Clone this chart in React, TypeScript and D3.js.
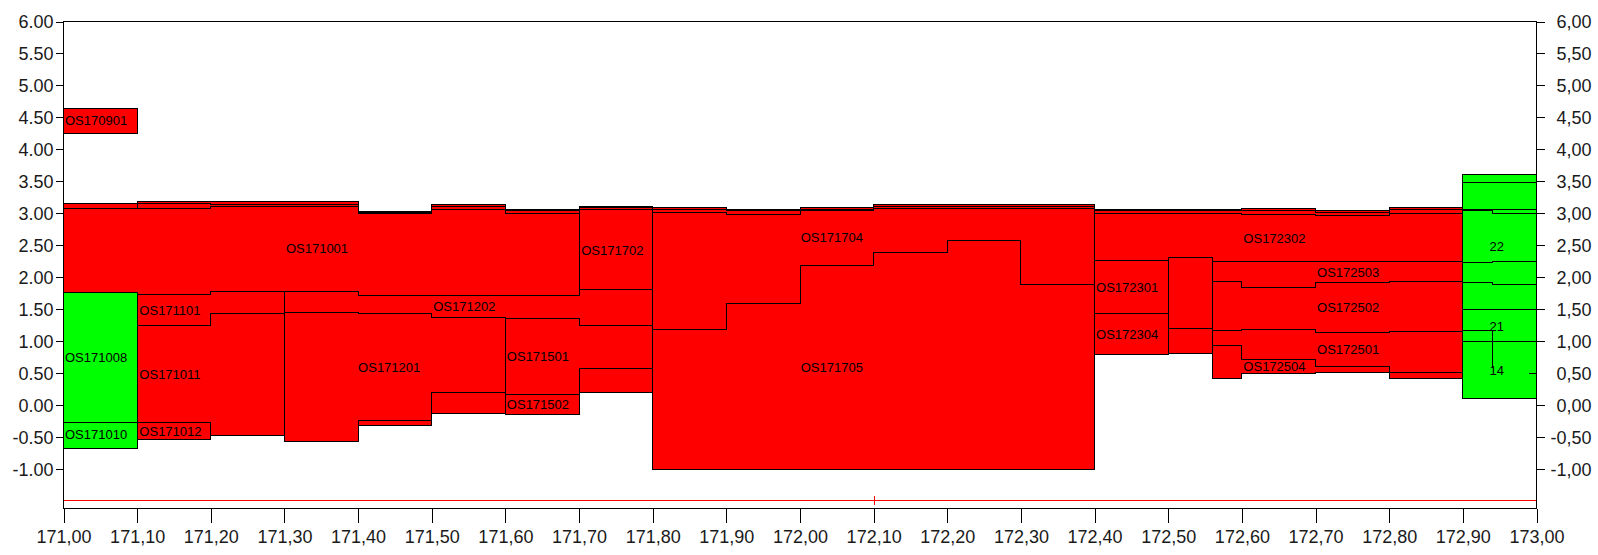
import { useEffect, useRef } from 'react'
import * as d3 from 'd3'

type Step = [number, number, number, number] // x0, x1, top, bottom

const width = 1598
const height = 555

// column edges of the thin top layers
const colEdges = [171.0, 171.1, 171.2, 171.3, 171.4, 171.5, 171.6, 171.7, 171.8, 171.9, 172.0,
  172.1, 172.2, 172.3, 172.4, 172.5, 172.56, 172.6, 172.7, 172.8, 172.9]
const bandTop = [3.16, 3.18, 3.18, 3.18, 3.035, 3.14, 3.06, 3.11, 3.10, 3.06, 3.09, 3.14, 3.14, 3.14, 3.06, 3.06, 3.06, 3.08, 3.04, 3.09]
const bandMid = [3.08, 3.15, 3.14, 3.14, 3.02, 3.11, 3.04, 3.09, 3.07, 3.04, 3.06, 3.11, 3.11, 3.11, 3.04, 3.04, 3.04, 3.04, 3.02, 3.06]
const bandBase = [3.075, 3.08, 3.11, 3.11, 3.0, 3.07, 3.005, 3.07, 3.02, 2.98, 3.04, 3.08, 3.08, 3.08, 3.0, 3.0, 3.0, 2.99, 2.97, 3.0]

// bottoms of the bodies lying right under the top layers
const os171001Bottom = [1.766, 1.73, 1.775, 1.775, 1.715, 1.715, 1.715] // cols 0-6
const os171702Bottom = [1.81] // col 7
const os171704Bottom = [1.19, 1.59, 2.19, 2.395, 2.58, 1.89] // cols 8-13
const os172302Bottom = [2.265, 2.31, 2.25, 2.25, 2.25, 2.25] // cols 14-19

const os170901: Step[] = [[171.0, 171.1, 4.64, 4.25]]
const os171008: Step[] = [[171.0, 171.1, 1.766, -0.26]]
const os171010: Step[] = [[171.0, 171.1, -0.26, -0.67]]
const os171101: Step[] = [[171.1, 171.2, 1.73, 1.25], [171.2, 171.3, 1.775, 1.43]]
const os171011: Step[] = [[171.1, 171.2, 1.25, -0.26], [171.2, 171.3, 1.43, -0.47]]
const os171012: Step[] = [[171.1, 171.2, -0.26, -0.53]]
const os171202: Step[] = [[171.3, 171.4, 1.775, 1.46], [171.4, 171.5, 1.715, 1.44], [171.5, 171.6, 1.715, 1.375], [171.6, 171.7, 1.715, 1.36], [171.7, 171.8, 1.81, 1.25]]
const os171201: Step[] = [[171.3, 171.4, 1.46, -0.57], [171.4, 171.5, 1.44, -0.235], [171.5, 171.6, 1.375, 0.21]]
const cellA: Step[] = [[171.4, 171.5, -0.235, -0.31]]
const cellB: Step[] = [[171.5, 171.6, 0.21, -0.125]]
const os171501: Step[] = [[171.6, 171.7, 1.36, 0.17], [171.7, 171.8, 1.25, 0.58]]
const os171502: Step[] = [[171.6, 171.7, 0.17, -0.14]]
const cellC: Step[] = [[171.7, 171.8, 0.58, 0.21]]
const os171705Bottom = -1.0
const os172301: Step[] = [[172.4, 172.5, 2.265, 1.44]]
const os172304: Step[] = [[172.4, 172.5, 1.44, 0.8]]
const cellD: Step[] = [[172.5, 172.56, 2.31, 1.2]]
const cellE: Step[] = [[172.5, 172.56, 1.2, 0.81]]
const os172503: Step[] = [[172.56, 172.6, 2.25, 1.94], [172.6, 172.7, 2.25, 1.84], [172.7, 172.8, 2.25, 1.92], [172.8, 172.9, 2.25, 1.94]]
const os172502: Step[] = [[172.56, 172.6, 1.94, 1.17], [172.6, 172.7, 1.84, 1.19], [172.7, 172.8, 1.92, 1.145], [172.8, 172.9, 1.94, 1.16]]
const os172501: Step[] = [[172.56, 172.6, 1.17, 0.94], [172.6, 172.7, 1.19, 0.72], [172.7, 172.8, 1.145, 0.61], [172.8, 172.9, 1.16, 0.52]]
const os172504: Step[] = [[172.56, 172.6, 0.94, 0.42], [172.6, 172.7, 0.72, 0.5], [172.7, 172.8, 0.61, 0.52], [172.8, 172.9, 0.52, 0.42]]

// green column at the end
const green1: Step[] = [[172.9, 173.0, 3.61, 3.49]]
const green2: Step[] = [[172.9, 172.94, 3.49, 3.07], [172.94, 173.0, 3.49, 3.06]]
const green3: Step[] = [[172.9, 172.94, 3.07, 3.04], [172.94, 173.0, 3.06, 3.0]]
const green22: Step[] = [[172.9, 172.94, 3.04, 2.24], [172.94, 173.0, 3.0, 2.25]]
const green5: Step[] = [[172.9, 172.94, 2.24, 1.92], [172.94, 173.0, 2.25, 1.89]]
const green6: Step[] = [[172.9, 172.94, 1.92, 1.5], [172.94, 173.0, 1.89, 1.5]]
const green21: Step[] = [[172.9, 173.0, 1.5, 1.0]]
const green14: Step[] = [[172.9, 173.0, 1.0, 0.11]]
const greenTrace: [number, number][] = [[172.9, 1.165], [172.94, 1.165], [172.94, 0.58]]

// labels: text, x, y (data units)
const labels: [string, number, number][] = [
  ['OS170901', 171.002, 4.45], ['OS171001', 171.302, 2.46], ['OS171008', 171.002, 0.75],
  ['OS171010', 171.002, -0.45], ['OS171101', 171.103, 1.48], ['OS171011', 171.103, 0.49],
  ['OS171012', 171.103, -0.4], ['OS171201', 171.4, 0.6], ['OS171202', 171.502, 1.54],
  ['OS171501', 171.602, 0.76], ['OS171502', 171.602, 0.02], ['OS171702', 171.703, 2.43],
  ['OS171704', 172.001, 2.63], ['OS171705', 172.001, 0.59], ['OS172301', 172.402, 1.84],
  ['OS172304', 172.402, 1.11], ['OS172302', 172.602, 2.61], ['OS172503', 172.702, 2.08],
  ['OS172502', 172.702, 1.53], ['OS172501', 172.702, 0.875], ['OS172504', 172.602, 0.61],
]
const greenLabels: [string, number, number][] = [['22', 172.946, 2.49], ['21', 172.946, 1.24], ['14', 172.946, 0.55]]

const xTicks = d3.range(0, 21).map(i => 171 + i * 0.1)
const yTicks = d3.range(0, 15).map(i => -1 + i * 0.5)
const baseLine = -1.47
const baseMark = 172.1

const RED = '#ff0000'
const GREEN = '#00ff00'
const FONT = '"Liberation Sans", Arial, sans-serif'

function under(from: number, bottoms: number[]): Step[] {
  return bottoms.map((b, i) => [colEdges[from + i], colEdges[from + i + 1], bandBase[from + i], b])
}

function band(top: number[], bottom: number[]): Step[] {
  return top.map((t, i) => [colEdges[i], colEdges[i + 1], t, bottom[i]])
}

export default function App() {
  const svgRef = useRef<SVGSVGElement>(null)

  useEffect(() => {
    if (!svgRef.current) return
    const svg = d3.select(svgRef.current)
    svg.selectAll('*').remove()

    const x = d3.scaleLinear().domain([171, 173]).range([63.5, 1536.5])
    const y = d3.scaleLinear().domain([-1.61, 6]).range([508.5, 21.5])

    const outline = (steps: Step[]) => {
      const pts: [number, number][] = []
      steps.forEach(([x0, x1, t]) => { pts.push([x0, t], [x1, t]) })
      steps.slice().reverse().forEach(([x0, x1, , b]) => { pts.push([x1, b], [x0, b]) })
      return d3.line<[number, number]>().x(d => x(d[0])).y(d => y(d[1]))(pts) + 'Z'
    }

    const os171705: Step[] = os171704Bottom.map((t, i) => [colEdges[8 + i], colEdges[9 + i], t, os171705Bottom])

    const bodies: [Step[], string][] = [
      [band(bandTop, bandMid), RED],
      [band(bandMid, bandBase), RED],
      [os170901, RED],
      [under(0, os171001Bottom), RED],
      [under(7, os171702Bottom), RED],
      [under(8, os171704Bottom), RED],
      [under(14, os172302Bottom), RED],
      [os171008, GREEN], [os171010, GREEN],
      [os171101, RED], [os171011, RED], [os171012, RED],
      [os171202, RED], [os171201, RED], [cellA, RED], [cellB, RED],
      [os171501, RED], [os171502, RED], [cellC, RED],
      [os171705, RED],
      [os172301, RED], [os172304, RED], [cellD, RED], [cellE, RED],
      [os172503, RED], [os172502, RED], [os172501, RED], [os172504, RED],
      [green1, GREEN], [green2, GREEN], [green3, GREEN], [green22, GREEN],
      [green5, GREEN], [green6, GREEN], [green21, GREEN], [green14, GREEN],
    ]

    const g = svg.append('g')

    g.selectAll('.body')
      .data(bodies)
      .enter().append('path')
      .attr('class', 'body')
      .attr('d', d => outline(d[0]))
      .attr('fill', d => d[1])
      .attr('stroke', '#000')
      .attr('stroke-width', 1)
      .attr('shape-rendering', 'crispEdges')

    g.append('path')
      .datum(greenTrace)
      .attr('d', d3.line<[number, number]>().x(d => x(d[0])).y(d => y(d[1])))
      .attr('fill', 'none')
      .attr('stroke', '#000')
      .attr('shape-rendering', 'crispEdges')

    // labels
    g.selectAll('.lbl')
      .data(labels)
      .enter().append('text')
      .attr('class', 'lbl')
      .attr('x', d => x(d[1]))
      .attr('y', d => y(d[2]))
      .attr('dy', '0.35em')
      .style('font-family', FONT)
      .style('font-size', '13px')
      .style('fill', '#000')
      .text(d => d[0])

    g.selectAll('.glbl')
      .data(greenLabels)
      .enter().append('text')
      .attr('class', 'glbl')
      .attr('x', d => x(d[1]))
      .attr('y', d => y(d[2]))
      .attr('dy', '0.35em')
      .attr('text-anchor', 'middle')
      .style('font-family', FONT)
      .style('font-size', '13px')
      .style('fill', '#000')
      .text(d => d[0])

    // red base line with mark
    const by = Math.round(y(baseLine)) + 0.5
    g.append('line')
      .attr('x1', x(171)).attr('x2', x(173))
      .attr('y1', by).attr('y2', by)
      .attr('stroke', RED)
      .attr('shape-rendering', 'crispEdges')
    g.append('line')
      .attr('x1', Math.round(x(baseMark)) + 0.5).attr('x2', Math.round(x(baseMark)) + 0.5)
      .attr('y1', by - 4.5).attr('y2', by + 4.5)
      .attr('stroke', RED)
      .attr('shape-rendering', 'crispEdges')

    // frame
    g.append('rect')
      .attr('x', x(171)).attr('y', y(6))
      .attr('width', x(173) - x(171)).attr('height', y(-1.61) - y(6))
      .attr('fill', 'none')
      .attr('stroke', '#000')
      .attr('shape-rendering', 'crispEdges')

    const styleAxis = (sel: any) => {
      sel.select('.domain').remove()
      sel.selectAll('.tick line').attr('stroke', '#000').attr('shape-rendering', 'crispEdges')
      sel.selectAll('text')
        .style('font-family', FONT)
        .style('font-size', '18px')
        .style('fill', '#1a1a1a')
    }

    const bottom = svg.append('g')
      .attr('transform', `translate(0,${y(-1.61)})`)
      .call(d3.axisBottom(x).tickValues(xTicks).tickSize(14).tickPadding(8)
        .tickFormat(d => (+d).toFixed(2).replace('.', ',')))
    styleAxis(bottom)

    const left = svg.append('g')
      .attr('transform', `translate(${x(171)},0)`)
      .call(d3.axisLeft(y).tickValues(yTicks).tickSize(8).tickPadding(2)
        .tickFormat(d => (+d).toFixed(2)))
    styleAxis(left)

    const right = svg.append('g')
      .attr('transform', `translate(${x(173)},0)`)
      .call(d3.axisRight(y).tickValues(yTicks).tickSize(8).tickPadding(2)
        .tickFormat(d => (+d).toFixed(2).replace('.', ',')))
    styleAxis(right)
    right.selectAll('text').attr('text-anchor', 'end').attr('x', 55)
    right.selectAll('.tick').filter((d: any) => Math.abs(d - 0.5) < 1e-6)
      .select('line').attr('x2', -8)
  }, [])

  return (
    <div style={{ position: 'absolute', left: 0, top: 0 }}>
      <svg ref={svgRef} width={width} height={height} style={{ display: 'block', background: '#fff' }} />
    </div>
  )
}
